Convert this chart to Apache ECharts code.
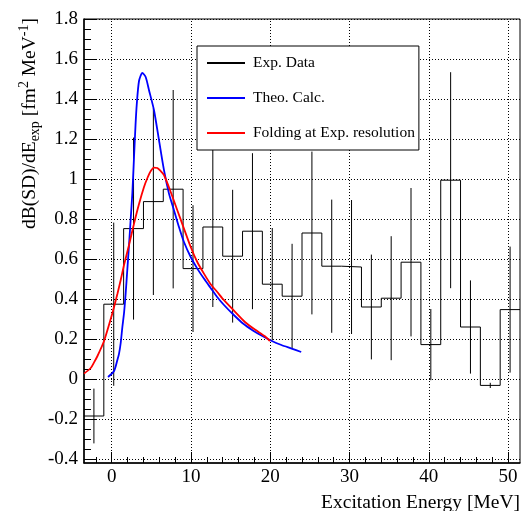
<!DOCTYPE html>
<html><head><meta charset="utf-8">
<script src="https://cdn.jsdelivr.net/npm/echarts@6/dist/echarts.min.js"></script>
<style>html,body{margin:0;padding:0;background:#fff}#c{width:521px;height:511px}</style>
</head><body><div id="c"></div>
<script>
// Experimental histogram: bin edges, contents and errors
const binEdges = [-3.5,-1,1.5,4,6.5,9,11.5,14,16.5,19,21.5,24,26.5,29,31.5,34,36.5,39,41.5,44,46.5,49,51.5];
const expValues = [-0.185,0.374,0.752,0.887,0.949,0.552,0.76,0.614,0.739,0.474,0.414,0.73,0.564,0.56,0.36,0.404,0.584,0.172,0.994,0.26,-0.032,0.347];
const expErrors = [0.137,0.408,0.455,0.467,0.496,0.317,0.40,0.332,0.39,0.281,0.262,0.407,0.333,0.335,0.262,0.31,0.371,0.178,0.54,0.233,0.013,0.315];
// Theoretical calculation
const theoE = [-0.47,0.29,0.71,0.92,1.13,1.34,1.55,1.76,1.97,2.18,2.39,2.6,2.81,3.0,3.15,3.44,3.86,4.28,4.7,5.33,5.96,6.59,7.22,7.85,8.48,9.11,9.96,10.79,11.63,12.48,13.3,14.16,15.4,16.6,17.8,19.0,20.2,21.4,22.7,23.9];
const theoB = [0.01,0.04,0.095,0.127,0.18,0.26,0.33,0.43,0.55,0.67,0.8,0.93,1.11,1.27,1.37,1.49,1.53,1.51,1.444,1.344,1.194,1.044,0.927,0.844,0.76,0.685,0.61,0.552,0.502,0.455,0.41,0.37,0.32,0.276,0.243,0.215,0.19,0.17,0.152,0.135];
// Folding at experimental resolution
const foldE = [-3.5,-2.65,-2.23,-1.8,-0.97,-0.13,0.29,0.71,1.13,1.55,2.18,2.81,3.44,4.07,4.5,4.92,5.33,5.75,6.17,6.59,7.44,8.27,9.11,9.96,10.79,11.63,12.48,13.31,14.16,15.5,16.8,18.06,19.32,19.95];
const foldB = [0.027,0.055,0.083,0.115,0.19,0.3,0.36,0.425,0.495,0.57,0.67,0.777,0.875,0.96,1.005,1.04,1.057,1.055,1.04,1.02,0.935,0.844,0.752,0.66,0.585,0.527,0.474,0.435,0.394,0.338,0.285,0.247,0.2135,0.19];
// Axis ticks
const xMajorTicks = [0,10,20,30,40,50];
const xMinorTicks = [-2,2,4,6,8,12,14,16,18,22,24,26,28,32,34,36,38,42,44,46,48];
const yMajorTicks = [-0.4,-0.2,0,0.2,0.4,0.6,0.8,1,1.2,1.4,1.6,1.8];
const yMinorTicks = [-0.35,-0.3,-0.25,-0.15,-0.1,-0.05,0.05,0.1,0.15,0.25,0.3,0.35,0.45,0.5,0.55,0.65,0.7,0.75,0.85,0.9,0.95,1.05,1.1,1.15,1.25,1.3,1.35,1.45,1.5,1.55,1.65,1.7,1.75];
const legendNames = ['Exp. Data','Theo. Calc.','Folding at Exp. resolution'];

const FONT = 'Liberation Serif';
const histData = binEdges.map((e,i)=>[e, expValues[Math.min(i, expValues.length-1)]]);
const errData = expValues.map((v,i)=>[(binEdges[i]+binEdges[i+1])/2, v-expErrors[i], v+expErrors[i]]);
const theoData = theoE.map((e,i)=>[e, theoB[i]]);
const foldData = foldE.map((e,i)=>[e, foldB[i]]);
const gridMarks = xMajorTicks.map(v=>({xAxis:v})).concat(yMajorTicks.map(v=>({yAxis:v})));

const chart = echarts.init(document.getElementById('c'), null, {renderer:'canvas'});
chart.setOption({
  animation:false,
  backgroundColor:'#fff',
  grid:{left:84, top:19, right:1, bottom:48, outerBoundsMode:'none', containLabel:false,
        show:true, borderColor:'#000', borderWidth:1, backgroundColor:'transparent'},
  xAxis:[{
    type:'value', min:-3.5, max:51.5, position:'bottom',
    axisLine:{show:true, onZero:false, lineStyle:{color:'#000', width:1.5}},
    axisTick:{show:true, inside:true, length:11, customValues:xMajorTicks, lineStyle:{color:'#000', width:1}},
    axisLabel:{show:true, customValues:xMajorTicks, fontFamily:FONT, fontSize:19, color:'#000', margin:5},
    splitLine:{show:false},
    name:'Excitation Energy [MeV]', nameLocation:'end', nameGap:0,
    nameTextStyle:{fontFamily:FONT, fontSize:19.5, color:'#000', align:'right', verticalAlign:'top', padding:[30,0,0,0]}
  },{
    type:'value', min:-3.5, max:51.5, position:'bottom', gridIndex:0,
    axisLine:{show:false, onZero:false}, axisLabel:{show:false}, splitLine:{show:false},
    axisTick:{show:true, inside:true, length:6, customValues:xMinorTicks, lineStyle:{color:'#000', width:1}}
  }],
  yAxis:[{
    type:'value', min:-0.42, max:1.8, position:'left',
    axisLine:{show:true, onZero:false, lineStyle:{color:'#000', width:1.5}},
    axisTick:{show:true, inside:true, length:13, customValues:yMajorTicks, lineStyle:{color:'#000', width:1}},
    axisLabel:{show:true, customValues:yMajorTicks, fontFamily:FONT, fontSize:19, color:'#000', margin:6},
    splitLine:{show:false}
  },{
    type:'value', min:-0.42, max:1.8, position:'left', gridIndex:0,
    axisLine:{show:false, onZero:false}, axisLabel:{show:false}, splitLine:{show:false},
    axisTick:{show:true, inside:true, length:7, customValues:yMinorTicks, lineStyle:{color:'#000', width:1}}
  }],
  legend:{
    data:legendNames, orient:'vertical', left:197, top:46, z:10,
    backgroundColor:'#fff', borderColor:'#000', borderWidth:1,
    padding:[9,4,9,9], itemWidth:38, itemHeight:16, itemGap:19,
    itemStyle:{opacity:0},
    textStyle:{fontFamily:FONT, fontSize:15.5, lineHeight:16, color:'#000', padding:[0,0,0,3]}
  },
  graphic:[{
    type:'text', x:29.5, y:18, rotation:Math.PI/2, z:10,
    style:{
      text:'{m|dB(SD)/dE}{sub|exp}{m| [fm}{sup|2}{m| MeV}{sup|-1}{m|]}',
      align:'right', verticalAlign:'middle', fill:'#000',
      rich:{
        m:{fontFamily:FONT, fontSize:19.5, lineHeight:25, fill:'#000'},
        sub:{fontFamily:FONT, fontSize:14, lineHeight:14, verticalAlign:'bottom', fill:'#000'},
        sup:{fontFamily:FONT, fontSize:14, lineHeight:14, verticalAlign:'top', fill:'#000'}
      }
    }
  }],
  series:[{
    name:'grid', type:'line', data:[], xAxisIndex:0, yAxisIndex:0, z:1, silent:true,
    markLine:{
      silent:true, z:1, symbol:['none','none'], label:{show:false}, animation:false,
      lineStyle:{color:'#000', width:1, type:[1,2]},
      emphasis:{disabled:true},
      data:gridMarks
    }
  },{
    name:'Exp. Data', type:'line', step:'end', data:histData, symbol:'none',
    xAxisIndex:0, yAxisIndex:0, lineStyle:{color:'#000', width:1}, itemStyle:{color:'#000'}, z:3
  },{
    name:'Exp. Data err', type:'custom', data:errData, xAxisIndex:0, yAxisIndex:0, z:3,
    renderItem:function(params, api){
      const p1 = api.coord([api.value(0), api.value(1)]);
      const p2 = api.coord([api.value(0), api.value(2)]);
      return {type:'line', shape:{x1:p1[0], y1:p1[1], x2:p2[0], y2:p2[1]}, style:{stroke:'#000', lineWidth:1}};
    }
  },{
    name:'Theo. Calc.', type:'line', data:theoData, symbol:'none', smooth:0.25,
    xAxisIndex:0, yAxisIndex:0, lineStyle:{color:'#0000ff', width:1.8}, itemStyle:{color:'#0000ff'}, z:4
  },{
    name:'Folding at Exp. resolution', type:'line', data:foldData, symbol:'none', smooth:0.25,
    xAxisIndex:0, yAxisIndex:0, lineStyle:{color:'#ff0000', width:1.8}, itemStyle:{color:'#ff0000'}, z:4
  }]
});
</script></body></html>
